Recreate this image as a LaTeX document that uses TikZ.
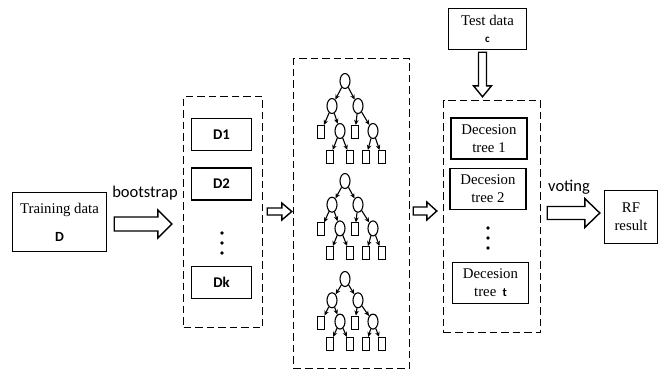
\documentclass[tikz,border=0pt]{standalone}
\usepackage{fontspec}
\setmainfont{Liberation Serif}
\setsansfont{Carlito}
\usetikzlibrary{arrows.meta,shapes.geometric,calc}

% hollow block arrow: start, tip, half shaft, half head, head length
\newcommand\fatarrow[5]{%
  \coordinate (fa_base) at ($(#2)!#5!(#1)$);
  \draw[fat] ($(#1)!#3!90:(#2)$) -- ($(fa_base)!#3!90:(#2)$) -- ($(fa_base)!#4!90:(#2)$)
    -- (#2) -- ($(fa_base)!#4!-90:(#2)$) -- ($(fa_base)!#3!-90:(#2)$)
    -- ($(#1)!#3!-90:(#2)$) -- cycle;}

\begin{document}
\begin{tikzpicture}[x=1pt,y=-1pt,>={Stealth[length=5pt,width=4.5pt]},
        box/.style={draw,line width=1.4pt,inner sep=0pt,align=center,
          font=\fontsize{14.8}{18}\selectfont},
        dbox/.style={box,font=\fontsize{14.8}{17}\sffamily\bfseries,
          minimum width=60pt,minimum height=32pt},
        tbox/.style={box,minimum width=76pt,minimum height=41pt},
        dashbox/.style={draw,line width=1.4pt,dash pattern=on 7.5pt off 4pt,inner sep=0pt},
        split/.style={draw,ellipse,line width=1.1pt,minimum width=10pt,
          minimum height=15pt,inner sep=0pt},
        leaf/.style={draw,line width=1.1pt,minimum width=7pt,minimum height=13pt,inner sep=0pt},
        fat/.style={line width=1.4pt,fill=white,line join=miter},
        word/.style={font=\fontsize{16.5}{16.5}\sffamily,inner sep=0pt}]

  \useasboundingbox (0,0) rectangle (659,372);

  \node[box,minimum width=94pt,minimum height=59pt] (train) at (59.5,222)
       {Training data\\[10pt]{\fontsize{14}{14}\sffamily\bfseries D}};

  \node[dashbox,minimum width=79pt,minimum height=231pt] (samples) at (223,212) {};
  \node[dbox] (d_1) at (221.5,134.5) {D1};
  \node[dbox] (d_2) at (221.5,184) {D2};
  \node[dbox] (d_k) at (221.5,282.5) {Dk};
  \foreach \dy in {0,10,20}
    \fill (222,{233+\dy}) circle (1.8pt);

  \node[dashbox,minimum width=116pt,minimum height=310pt] (trees) at (351.5,213.5) {};
  \foreach \ty/\ls [count=\i] in {81/25, 181/23.7, 279/21.3} {
    \node[split] (r_\i) at (345,\ty) {};
    \node[split] (a_\i) at (332,{\ty+\ls}) {};
    \node[split] (b_\i) at (358,{\ty+\ls}) {};
    \node[leaf]  (c_\i) at (321,{\ty+2*\ls+1}) {};
    \node[split] (e_\i) at (340,{\ty+2*\ls}) {};
    \node[leaf]  (f_\i) at (355,{\ty+2*\ls+1}) {};
    \node[split] (g_\i) at (373,{\ty+2*\ls}) {};
    \node[leaf]  (h_\i) at (330,{\ty+3*\ls+1}) {};
    \node[leaf]  (j_\i) at (350,{\ty+3*\ls+1}) {};
    \node[leaf]  (k_\i) at (366,{\ty+3*\ls+1}) {};
    \node[leaf]  (m_\i) at (382,{\ty+3*\ls+1}) {};
    \path[->,line width=1.1pt]
          (r_\i) edge (a_\i)  (r_\i) edge (b_\i)
          (a_\i) edge (c_\i)  (a_\i) edge (e_\i)
          (b_\i) edge (f_\i)  (b_\i) edge (g_\i)
          (e_\i) edge (h_\i)  (e_\i) edge (j_\i)
          (g_\i) edge (k_\i)  (g_\i) edge (m_\i);
  }

  \node[box,minimum width=78pt,minimum height=41pt] (test) at (487.5,29)
       {Test data\\[-1pt]{\fontsize{11}{11}\sffamily\bfseries c}};

  \node[dashbox,minimum width=97pt,minimum height=232pt] (classifiers) at (492,216.5) {};
  \node[tbox] (dt_1) at (489,138.5) {Decesion\\tree 1};
  \node[tbox] (dt_2) at (488,189) {Decesion\\tree 2};
  \node[tbox] (dt_t) at (490.5,283)
       {Decesion\\tree\, {\fontsize{12.5}{12.5}\sffamily\bfseries t}};
  \foreach \dy in {0,10,20}
    \fill (488,{228+\dy}) circle (1.8pt);

  \node[box,minimum width=53pt,minimum height=53pt] (result) at (631,217) {RF\\result};

  \node[word] (lbl_boot) at (145,193) {bootstrap};
  \node[word] (lbl_vote) at (569,187) {voting};

  \coordinate (boot_s) at ([xshift=7pt,yshift=-2pt]train.east);
  \coordinate (boot_e) at ([xshift=-11pt]samples.west |- boot_s);
  \fatarrow{boot_s}{boot_e}{7pt}{14pt}{14pt}

  \coordinate (bag_s) at ([xshift=4pt,yshift=0.5pt]samples.east);
  \coordinate (bag_e) at ([xshift=-1pt]trees.west |- bag_s);
  \fatarrow{bag_s}{bag_e}{3.5pt}{8.5pt}{10pt}

  \coordinate (tree_s) at ([xshift=3pt,yshift=2.5pt]trees.east);
  \coordinate (tree_e) at ([xshift=-6pt]classifiers.west |- tree_s);
  \fatarrow{tree_s}{tree_e}{4pt}{9pt}{10pt}

  \coordinate (test_s) at ([xshift=-5pt,yshift=-2pt]test.south);
  \coordinate (test_e) at ([yshift=3pt]classifiers.north -| test_s);
  \fatarrow{test_s}{test_e}{4pt}{9pt}{11pt}

  \coordinate (vote_s) at ([xshift=6pt,yshift=3.5pt]classifiers.east);
  \coordinate (vote_e) at ([xshift=-4pt]result.west |- vote_s);
  \fatarrow{vote_s}{vote_e}{6.5pt}{14.5pt}{15pt}

\end{tikzpicture}
\end{document}
